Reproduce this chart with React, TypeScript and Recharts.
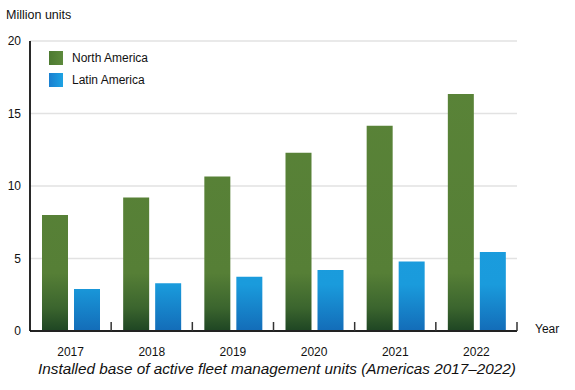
import React from "react";
import { BarChart, Bar, XAxis, YAxis, CartesianGrid } from "recharts";

const years = ["2017", "2018", "2019", "2020", "2021", "2022"];
const northAmerica = [8.0, 9.2, 10.65, 12.3, 14.15, 16.35];
const latinAmerica = [2.9, 3.3, 3.75, 4.2, 4.8, 5.45];
const yTicks = [0, 5, 10, 15, 20];
const seriesNames = ["North America", "Latin America"];
const yAxisTitle = "Million units";
const xAxisTitle = "Year";
const chartTitle = "Installed base of active fleet management units (Americas 2017\u20132022)";

const data = years.map((y, i) => ({ year: y, na: northAmerica[i], la: latinAmerica[i] }));

const FONT = "'Liberation Sans', Arial, Helvetica, sans-serif";

const XTick = (props: any) => {
  const { x, y, payload } = props;
  const half = payload && typeof payload.offset === "number" && payload.offset > 0 ? payload.offset : 40.6;
  const bx = x + half;
  return (
    <g>
      <line x1={bx} x2={bx} y1={y} y2={y - 9} stroke="#333" strokeWidth={1.5} />
      <text x={x} y={y + 25} textAnchor="middle" fontSize={12} fill="#111" fontFamily={FONT}>
        {payload.value}
      </text>
    </g>
  );
};

export default function App() {
  return (
    <div style={{ position: "absolute", left: 0, top: 0, width: 575, height: 390, background: "#fff", fontFamily: FONT }}>
      <BarChart
        width={575}
        height={390}
        data={data}
        margin={{ top: 41, right: 58, bottom: 39, left: 0 }}
        barGap={6}
      >
        <defs>
          <linearGradient id="gNA" x1="0" y1="41" x2="0" y2="331" gradientUnits="userSpaceOnUse">
            <stop offset="0" stopColor="#5a8438" />
            <stop offset="0.8" stopColor="#567f36" />
            <stop offset="0.92" stopColor="#3b652e" />
            <stop offset="1" stopColor="#1e4523" />
          </linearGradient>
          <linearGradient id="gLA" x1="0" y1="41" x2="0" y2="331" gradientUnits="userSpaceOnUse">
            <stop offset="0" stopColor="#1ca1e2" />
            <stop offset="0.84" stopColor="#1a9bdc" />
            <stop offset="1" stopColor="#136cb8" />
          </linearGradient>
        </defs>
        <CartesianGrid vertical={false} stroke="#e2e2e2" strokeWidth={1.5} />
        <XAxis
          dataKey="year"
          axisLine={{ stroke: "#222", strokeWidth: 1.8 }}
          tickLine={false}
          tickSize={0}
          tickMargin={0}
          height={20}
          tick={<XTick />}
          interval={0}
        />
        <YAxis
          width={30}
          domain={[0, 20]}
          ticks={yTicks}
          axisLine={{ stroke: "#111", strokeWidth: 1.8 }}
          tickLine={false}
          tickSize={0}
          tickMargin={9}
          tick={{ fontSize: 12, fill: "#111", fontFamily: FONT }}
        />
        <Bar dataKey="na" name={seriesNames[0]} fill="url(#gNA)" barSize={26} isAnimationActive={false} />
        <Bar dataKey="la" name={seriesNames[1]} fill="url(#gLA)" barSize={26} isAnimationActive={false} />
      </BarChart>

      <div style={{ position: "absolute", left: 6, top: 8, fontSize: 12.5, color: "#111", whiteSpace: "nowrap" }}>{yAxisTitle}</div>
      <div style={{ position: "absolute", left: 535, top: 322, fontSize: 12, color: "#111" }}>{xAxisTitle}</div>
      <div
        style={{
          position: "absolute",
          left: 0,
          width: 554,
          top: 360,
          textAlign: "center",
          fontSize: 15.3,
          fontStyle: "italic",
          color: "#111",
          whiteSpace: "nowrap",
        }}
      >
        {chartTitle}
      </div>

      <div style={{ position: "absolute", left: 49, top: 51, fontSize: 12, color: "#111" }}>
        <div style={{ display: "flex", alignItems: "center", height: 14, marginBottom: 8 }}>
          <div style={{ width: 14, height: 14, background: "linear-gradient(to right, #4d7a31, #5d8a3c)" }} />
          <span style={{ marginLeft: 9, whiteSpace: "nowrap" }}>{seriesNames[0]}</span>
        </div>
        <div style={{ display: "flex", alignItems: "center", height: 14 }}>
          <div style={{ width: 14, height: 14, background: "linear-gradient(to right, #1a7fd0, #1ea3e3)" }} />
          <span style={{ marginLeft: 9, whiteSpace: "nowrap" }}>{seriesNames[1]}</span>
        </div>
      </div>
    </div>
  );
}
